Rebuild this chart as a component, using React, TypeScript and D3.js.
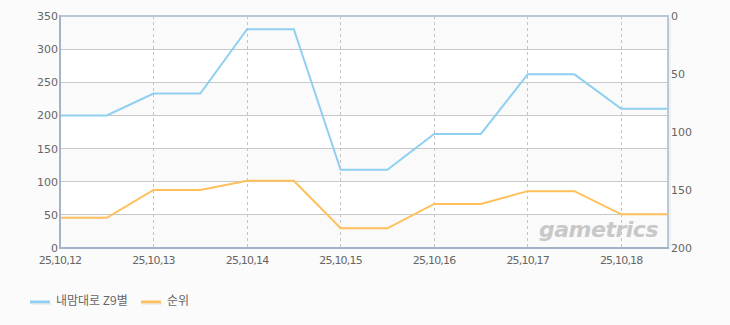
import React from "react";
import * as d3 from "d3";

const dates = ["25,10,12", "25,10,13", "25,10,14", "25,10,15", "25,10,16", "25,10,17", "25,10,18"];
const xPos = [0, 0.5, 1, 1.5, 2, 2.5, 3, 3.5, 4, 4.5, 5, 5.5, 6, 6.5];
const seriesA = [200, 200, 233, 233, 330, 330, 118, 118, 172, 172, 262, 262, 210, 210];
const seriesRank = [174, 174, 150, 150, 142, 142, 183, 183, 162, 162, 151, 151, 171, 171];
const leftTicks = [0, 50, 100, 150, 200, 250, 300, 350];
const rightTicks = [0, 50, 100, 150, 200];
const legendNames = ["내맘대로 Z9별", "순위"];
const colors = ["#8fd0f0", "#ffbf5a"];

export default function App() {
  const W = 730, H = 325;
  const L = 60, R = 668, T = 16, B = 248;
  const x = d3.scaleLinear().domain([0, 6.5]).range([L, R]);
  const yL = d3.scaleLinear().domain([0, 350]).range([B, T]);
  const yR = d3.scaleLinear().domain([0, 200]).range([T, B]);
  const line = (ys: number[], sc: d3.ScaleLinear<number, number>) =>
    d3.line<number>().x((_, i) => x(xPos[i])).y((v) => sc(v))(ys) || "";
  const font = "'DejaVu Sans', 'Noto Sans CJK KR', sans-serif";
  const bands = d3.range(leftTicks.length - 1);
  return (
    <svg width={W} height={H} style={{ position: "absolute", left: 0, top: 0, background: "#fbfbfb" }}>
      <rect x={0} y={0} width={W} height={H} fill="#fbfbfb" />
      {bands.map((i) => (
        <rect key={i} x={L} y={yL(leftTicks[i + 1])} width={R - L} height={yL(leftTicks[i]) - yL(leftTicks[i + 1])}
          fill={i % 2 === 0 ? "#fafafa" : "#ffffff"} />
      ))}
      {leftTicks.map((t) => (
        <line key={t} x1={L} x2={R} y1={yL(t)} y2={yL(t)} stroke="#c8c8c8" strokeWidth={1} shapeRendering="crispEdges" />
      ))}
      {dates.map((d, i) => i > 0 && (
        <line key={d} x1={x(i)} x2={x(i)} y1={T} y2={B} stroke="#c4c4c4" strokeDasharray="3,3" shapeRendering="crispEdges" />
      ))}
      <text x={658} y={237} textAnchor="end" fontFamily="'DejaVu Sans', sans-serif" fontStyle="italic" fontWeight="bold"
        fontSize={22} fill="#c8c8c8" letterSpacing={-0.5}>gametrics</text>
      <path d={line(seriesA, yL)} fill="none" stroke={colors[0]} strokeWidth={2} />
      <path d={line(seriesRank, yR)} fill="none" stroke={colors[1]} strokeWidth={2} />
      {/* frame */}
      <rect x={L} y={T} width={R - L} height={B - T} fill="none" stroke="#b8c8da" strokeWidth={2} />
      <line x1={L} x2={L} y1={T - 1} y2={B + 1} stroke="#a4b4c8" strokeWidth={2} />
      <line x1={L - 1} x2={R + 1} y1={B} y2={B} stroke="#a4b4c8" strokeWidth={2} />
      <line x1={R + 2} x2={R + 2} y1={T + 2} y2={B + 2} stroke="#e6e6e6" strokeWidth={1} />
      {leftTicks.map((t) => (
        <text key={t} x={L - 2} y={yL(t) + 4} textAnchor="end" fontFamily={font} fontSize={11} fill="#666">{t}</text>
      ))}
      {rightTicks.map((t) => (
        <text key={t} x={R + 3} y={yR(t) + 4} textAnchor="start" fontFamily={font} fontSize={11} fill="#666">{t}</text>
      ))}
      {dates.map((d, i) => (
        <text key={d} x={x(i)} y={B + 16} textAnchor="middle" fontFamily={font} fontSize={11} fill="#666" letterSpacing={-0.8}>{d}</text>
      ))}
      {legendNames.map((n, i) => {
        const lx = i === 0 ? 30 : 141;
        return (
          <g key={n}>
            <line x1={lx} x2={lx + 20} y1={302} y2={302} stroke={colors[i]} strokeWidth={3} />
            <line x1={lx + 1} x2={lx + 21} y1={304} y2={304} stroke="#e2e2e2" strokeWidth={1} />
            <text x={lx + 26} y={305} fontFamily="'Noto Sans CJK KR', sans-serif" fontSize={12} fill="#666">{n}</text>
          </g>
        );
      })}
    </svg>
  );
}
